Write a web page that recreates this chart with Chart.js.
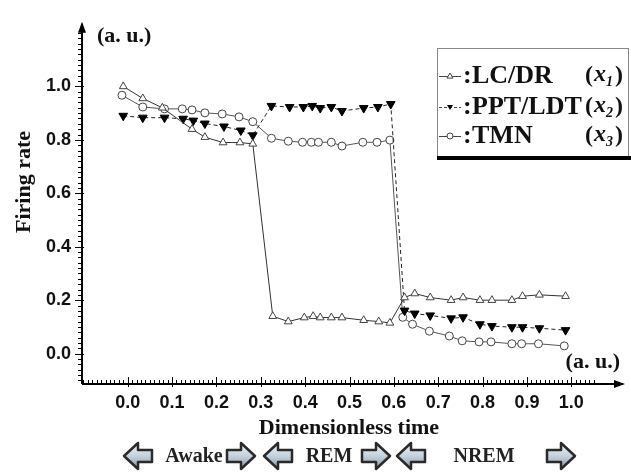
<!DOCTYPE html>
<html>
<head>
<meta charset="utf-8">
<script src="https://cdn.jsdelivr.net/npm/chart.js@4.4.0/dist/chart.umd.min.js"></script>
<style>
    html, body { margin: 0; padding: 0; background: #fff; }
    #wrap { width: 631px; height: 472px; }
</style>
</head>
<body>
<div id="wrap"><canvas id="firingChart" width="631" height="472"></canvas></div>
<script>
/*global Chart, document*/
'use strict';

// ------------------------------------------------------- //
// Data
// ------------------------------------------------------ //
var timeLC = [-0.01, 0.034, 0.078, 0.145, 0.174, 0.215, 0.253, 0.282, 0.327, 0.362, 0.398, 0.418, 0.434, 0.459, 0.483, 0.532, 0.566, 0.591, 0.624, 0.647, 0.682, 0.729, 0.756, 0.794, 0.821, 0.866, 0.890, 0.928, 0.987];
var rateLC = [1.00, 0.955, 0.92, 0.84, 0.81, 0.79, 0.79, 0.785, 0.14, 0.12, 0.135, 0.14, 0.135, 0.135, 0.135, 0.125, 0.12, 0.115, 0.21, 0.225, 0.21, 0.20, 0.21, 0.20, 0.20, 0.20, 0.215, 0.22, 0.215];

var timePPT = [-0.01, 0.034, 0.083, 0.125, 0.148, 0.174, 0.217, 0.255, 0.282, 0.324, 0.365, 0.396, 0.416, 0.434, 0.459, 0.483, 0.532, 0.564, 0.593, 0.624, 0.647, 0.682, 0.729, 0.756, 0.794, 0.821, 0.866, 0.890, 0.928, 0.987];
var ratePPT = [0.89, 0.883, 0.883, 0.879, 0.872, 0.861, 0.85, 0.835, 0.817, 0.927, 0.923, 0.923, 0.927, 0.919, 0.923, 0.908, 0.919, 0.923, 0.934, 0.161, 0.15, 0.143, 0.132, 0.136, 0.11, 0.103, 0.099, 0.099, 0.095, 0.088];

var timeTMN = [-0.013, 0.034, 0.083, 0.123, 0.145, 0.174, 0.213, 0.251, 0.282, 0.324, 0.362, 0.394, 0.414, 0.430, 0.459, 0.483, 0.530, 0.562, 0.591, 0.620, 0.642, 0.680, 0.725, 0.754, 0.792, 0.819, 0.866, 0.888, 0.926, 0.984];
var rateTMN = [0.967, 0.923, 0.916, 0.916, 0.912, 0.901, 0.897, 0.886, 0.868, 0.806, 0.795, 0.791, 0.791, 0.791, 0.791, 0.777, 0.791, 0.791, 0.799, 0.136, 0.11, 0.084, 0.066, 0.048, 0.044, 0.044, 0.037, 0.037, 0.037, 0.029];

var xTicks = [0, 0.1, 0.2, 0.3, 0.4, 0.5, 0.6, 0.7, 0.8, 0.9, 1.0];
var yTicks = [0, 0.2, 0.4, 0.6, 0.8, 1.0];

var seriesNames = ['LC/DR', 'PPT/LDT', 'TMN'];
var seriesSubs = ['1', '2', '3'];
var stageNames = ['Awake', 'REM', 'NREM'];

var serif = '"Liberation Serif", "Times New Roman", serif';
var sans = '"Liberation Sans", Arial, sans-serif';

function toPoints(xs, ys) {
    return xs.map(function (x, i) { return {x: x, y: ys[i]}; });
}

// ------------------------------------------------------- //
// Small drawing helpers
// ------------------------------------------------------ //
function marker(ctx, kind, x, y, r) {
    ctx.save();
    ctx.lineWidth = 1;
    ctx.setLineDash([]);
    ctx.beginPath();
    if (kind === 'circle') {
        ctx.arc(x, y, r, 0, Math.PI * 2);
        ctx.fillStyle = '#fff';
        ctx.strokeStyle = '#444';
        ctx.fill();
        ctx.stroke();
    } else if (kind === 'up') {
        ctx.moveTo(x, y - r);
        ctx.lineTo(x + r, y + r * 0.7);
        ctx.lineTo(x - r, y + r * 0.7);
        ctx.closePath();
        ctx.fillStyle = '#fff';
        ctx.strokeStyle = '#444';
        ctx.fill();
        ctx.stroke();
    } else {
        ctx.moveTo(x, y + r);
        ctx.lineTo(x + r, y - r * 0.7);
        ctx.lineTo(x - r, y - r * 0.7);
        ctx.closePath();
        ctx.fillStyle = '#000';
        ctx.fill();
    }
    ctx.restore();
}

function blockArrow(ctx, cx, cy, dir) {
    ctx.save();
    ctx.translate(cx, cy);
    ctx.scale(dir, 1);
    ctx.beginPath();
    ctx.moveTo(-14, -6);
    ctx.lineTo(0, -6);
    ctx.lineTo(0, -13);
    ctx.lineTo(14, 0);
    ctx.lineTo(0, 13);
    ctx.lineTo(0, 6);
    ctx.lineTo(-14, 6);
    ctx.closePath();
    var g = ctx.createLinearGradient(0, -13, 0, 13);
    g.addColorStop(0, '#eef3f7');
    g.addColorStop(0.5, '#c5d1dc');
    g.addColorStop(1, '#8699ab');
    ctx.fillStyle = g;
    ctx.fill();
    ctx.lineJoin = 'round';
    ctx.lineWidth = 2.5;
    ctx.strokeStyle = '#2a2a2a';
    ctx.stroke();
    ctx.restore();
}

// ------------------------------------------------------- //
// Axes, titles, legend box and stage arrows
// ------------------------------------------------------ //
var decorPlugin = {
    id: 'decor',
    afterDraw: function (chart) {
        var ctx = chart.ctx;
        var xs = chart.scales.x;
        var ys = chart.scales.y;
        var area = chart.chartArea;
        var ax = area.left, ay = area.bottom;
        var p, i;

        ctx.save();
        ctx.strokeStyle = '#000';
        ctx.fillStyle = '#000';

        // axis lines
        ctx.lineWidth = 2;
        ctx.beginPath();
        ctx.moveTo(ax, ay);
        ctx.lineTo(ax, area.top + 2);
        ctx.moveTo(ax, ay);
        ctx.lineTo(area.right - 2, ay);
        ctx.stroke();

        // arrow heads
        ctx.beginPath();
        ctx.moveTo(ax, area.top);
        ctx.lineTo(ax - 4, area.top + 11);
        ctx.lineTo(ax + 4, area.top + 11);
        ctx.closePath();
        ctx.fill();
        ctx.beginPath();
        ctx.moveTo(area.right, ay);
        ctx.lineTo(area.right - 11, ay - 4);
        ctx.lineTo(area.right - 11, ay + 4);
        ctx.closePath();
        ctx.fill();

        // ruler ticks
        ctx.lineWidth = 1;
        ctx.beginPath();
        for (i = -10; i <= 105; i++) {
            p = Math.round(xs.getPixelForValue(i / 100)) + 0.5;
            if (p <= ax + 1) { continue; }
            ctx.moveTo(p, ay);
            ctx.lineTo(p, ay - 4);
        }
        for (i = -5; i <= 60; i++) {
            p = Math.round(ys.getPixelForValue(i / 50)) + 0.5;
            if (p >= ay - 1) { continue; }
            ctx.moveTo(ax, p);
            ctx.lineTo(ax - 4, p);
        }
        xTicks.forEach(function (t) {
            var px = Math.round(xs.getPixelForValue(t)) + 0.5;
            ctx.moveTo(px, ay + 3);
            ctx.lineTo(px, ay - 7);
        });
        yTicks.forEach(function (t) {
            var py = Math.round(ys.getPixelForValue(t)) + 0.5;
            ctx.moveTo(ax - 7, py);
            ctx.lineTo(ax + 2, py);
        });
        ctx.stroke();

        // axis titles and units
        ctx.fillStyle = '#111';
        ctx.font = 'bold 22px ' + serif;
        ctx.textAlign = 'center';
        ctx.textBaseline = 'middle';
        ctx.fillText('Dimensionless time', 349, 428);
        ctx.save();
        ctx.translate(24, 182);
        ctx.rotate(-Math.PI / 2);
        ctx.fillText('Firing rate', 0, 0);
        ctx.restore();

        ctx.font = 'bold 22px ' + serif;
        ctx.textAlign = 'left';
        ctx.fillText('(a. u.)', 97, 36);
        ctx.textAlign = 'right';
        ctx.fillText('(a. u.)', 620, 362);

        // legend box
        ctx.lineWidth = 1;
        ctx.strokeStyle = '#888';
        ctx.strokeRect(437.5, 48.5, 191, 108);
        ctx.fillStyle = '#000';
        ctx.fillRect(437, 156, 194, 4);

        var rows = [76, 107, 136];
        var kinds = ['up', 'down', 'circle'];
        rows.forEach(function (ry, k) {
            ctx.save();
            ctx.strokeStyle = '#444';
            ctx.lineWidth = 1;
            if (k === 1) { ctx.setLineDash([3, 2]); }
            ctx.beginPath();
            ctx.moveTo(439, ry + 0.5);
            ctx.lineTo(461, ry + 0.5);
            ctx.stroke();
            ctx.restore();
            marker(ctx, kinds[k], 450, ry, 3);

            ctx.fillStyle = '#111';
            ctx.textAlign = 'left';
            ctx.textBaseline = 'middle';
            ctx.font = 'bold 26px ' + serif;
            ctx.fillText(':', 463, ry);
            ctx.fillText(seriesNames[k], 472, ry);

            ctx.font = 'bold 24px ' + serif;
            ctx.fillText('(', 585, ry);
            ctx.font = 'italic bold 24px ' + serif;
            ctx.fillText('x', 594, ry - 1);
            ctx.font = 'italic bold 14px ' + serif;
            ctx.fillText(seriesSubs[k], 606, ry + 6);
            ctx.font = 'bold 24px ' + serif;
            ctx.fillText(')', 615, ry);
        });

        // sleep stage row
        blockArrow(ctx, 138, 456, -1);
        blockArrow(ctx, 241, 456, 1);
        blockArrow(ctx, 278, 456, -1);
        blockArrow(ctx, 376, 456, 1);
        blockArrow(ctx, 411, 456, -1);
        blockArrow(ctx, 561, 456, 1);
        ctx.fillStyle = '#222';
        ctx.font = 'bold 20px ' + serif;
        ctx.textAlign = 'center';
        ctx.textBaseline = 'middle';
        ctx.fillText(stageNames[0], 194, 457);
        ctx.fillText(stageNames[1], 329, 457);
        ctx.fillText(stageNames[2], 484, 457);

        ctx.restore();
    }
};

// ------------------------------------------------------- //
// Scatter chart with connected points
// ------------------------------------------------------ //
var canvas = document.getElementById('firingChart');
var firingChart = new Chart(canvas, {
    type: 'scatter',
    plugins: [decorPlugin],
    data: {
        datasets: [
            {
                label: seriesNames[0],
                data: toPoints(timeLC, rateLC),
                showLine: true,
                borderColor: '#333',
                borderWidth: 1,
                pointStyle: 'triangle',
                pointRadius: 4.5,
                pointBorderWidth: 1,
                pointBackgroundColor: '#fff',
                pointBorderColor: '#444'
            },
            {
                label: seriesNames[1],
                data: toPoints(timePPT, ratePPT),
                showLine: true,
                borderColor: '#222',
                borderWidth: 1,
                borderDash: [4, 3],
                pointStyle: 'triangle',
                pointRotation: 180,
                pointRadius: 5,
                pointBorderWidth: 1,
                pointBackgroundColor: '#000',
                pointBorderColor: '#000'
            },
            {
                label: seriesNames[2],
                data: toPoints(timeTMN, rateTMN),
                showLine: true,
                borderColor: '#555',
                borderWidth: 1,
                pointStyle: 'circle',
                pointRadius: 4,
                pointBorderWidth: 1,
                pointBackgroundColor: '#fff',
                pointBorderColor: '#444'
            }
        ]
    },
    options: {
        responsive: false,
        animation: false,
        devicePixelRatio: 1,
        layout: {
            padding: {top: 14, right: 2, left: 0, bottom: 0}
        },
        plugins: {
            legend: {display: false},
            tooltip: {enabled: false}
        },
        scales: {
            x: {
                type: 'linear',
                min: -0.103,
                max: 1.121,
                grid: {display: false, drawTicks: false, tickLength: 0},
                border: {display: false},
                afterFit: function (scale) { scale.height = 88; },
                afterBuildTicks: function (scale) {
                    scale.ticks = xTicks.map(function (v) { return {value: v}; });
                },
                ticks: {
                    autoSkip: false,
                    maxRotation: 0,
                    padding: 8,
                    color: '#111',
                    font: {family: sans, size: 18, weight: 'bold'},
                    callback: function (value) { return Number(value).toFixed(1); }
                }
            },
            y: {
                type: 'linear',
                min: -0.1136,
                max: 1.2418,
                grid: {display: false, drawTicks: false, tickLength: 0},
                border: {display: false},
                afterFit: function (scale) { scale.width = 82; },
                afterBuildTicks: function (scale) {
                    scale.ticks = yTicks.map(function (v) { return {value: v}; });
                },
                ticks: {
                    padding: 11,
                    color: '#111',
                    font: {family: sans, size: 18, weight: 'bold'},
                    callback: function (value) { return Number(value).toFixed(1); }
                }
            }
        }
    }
});
</script>
</body>
</html>
